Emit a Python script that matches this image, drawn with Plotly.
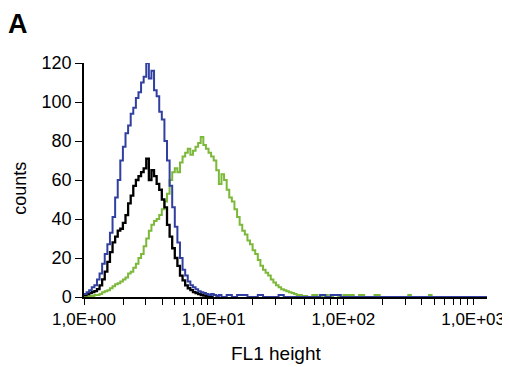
import plotly.graph_objects as go

# FL1 channel positions (log-spaced, 0.02 decade per channel)
channels = [1.000, 1.047, 1.096, 1.148, 1.202, 1.259, 1.318, 1.380, 1.445, 1.514,
            1.585, 1.660, 1.738, 1.820, 1.905, 1.995, 2.089, 2.188, 2.291, 2.399,
            2.512, 2.630, 2.754, 2.884, 3.020, 3.162, 3.311, 3.467, 3.631, 3.802,
            3.981, 4.169, 4.365, 4.571, 4.786, 5.012, 5.248, 5.495, 5.754, 6.026,
            6.310, 6.607, 6.918, 7.244, 7.586, 7.943, 8.318, 8.710, 9.120, 9.550,
            10.00, 10.47, 10.96, 11.48, 12.02, 12.59, 13.18, 13.80, 14.45, 15.14,
            15.85, 16.60, 17.38, 18.20, 19.05, 19.95, 20.89, 21.88, 22.91, 23.99,
            25.12, 26.30, 27.54, 28.84, 30.20, 31.62, 33.11, 34.67, 36.31, 38.02,
            39.81, 41.69, 43.65, 45.71, 47.86, 50.12]

blue_counts = [1.5, 2.5, 3.5, 5, 6, 9, 12, 17, 22, 27,
               33, 41, 51, 60, 70, 77, 84, 88, 94, 97,
               102, 105, 110, 113, 120, 112, 116, 106, 103, 95,
               91, 80, 70, 57, 46, 36, 28, 20, 14, 11,
               8, 6, 5, 4, 3, 2.5, 2, 1.5, 1, 1.5,
               1, 0.5, 1]
black_counts = [1, 1.5, 2, 2.5, 3, 4, 6, 9, 13, 18,
                23, 28, 31, 34, 35, 38, 42, 48, 52, 57,
                60, 62, 64, 66, 71, 60, 65, 62, 58, 55,
                50, 46, 37, 31, 25, 20, 16, 11, 8.5, 6,
                4.5, 3.5, 2.5, 2, 1.5, 1, 0.7, 0.5, 0.5, 0,
                0]
green_counts = [0, 0, 0.5, 0.5, 1, 1, 1.5, 2.5, 3, 3.5,
                4.5, 5.5, 6.5, 7, 8, 9, 10, 12, 13, 15,
                17, 20, 22, 26, 30, 34, 37, 39, 40, 42,
                45, 49, 53, 60, 64, 66, 64, 69, 72, 74,
                76, 73, 75, 77, 79, 82, 78, 76, 74, 72,
                70, 65, 58, 63, 60, 55, 51, 49, 45, 41,
                37, 34, 32, 29, 27, 24, 22, 19, 16, 14,
                12.5, 11, 9, 7.5, 6, 5, 4, 3.5, 3, 2.5,
                2, 1.5, 1, 1, 0.5, 0.5]

# sparse tails near zero
blue_tail_x = [11.48, 12.59, 13.80, 15.14, 16.60, 18.20, 19.95, 21.88, 23.99, 26.30,
               28.84, 31.62, 34.67, 38.02, 41.69, 45.71, 50.12, 54.95, 60.26, 66.07,
               72.44, 79.43, 87.10, 95.50, 104.7, 120.0, 200.0, 400.0, 800.0, 1300.0]
blue_tail_y = [0, 1, 0, 1, 1, 0, 0, 1, 0, 0,
               0, 1, 0, 0, 0, 0, 0, 0, 0, 1,
               0, 1, 1, 0, 0, 0, 0, 0, 0, 0]
green_tail_x = [52.48, 57.54, 63.10, 69.18, 75.86, 83.18, 91.20, 100.0, 109.6, 120.2,
                131.8, 144.5, 158.5, 173.8, 190.5, 208.9, 229.1, 251.2, 275.4, 302.0,
                316.2, 331.1, 363.1, 398.1, 436.5, 457.1, 478.6]
green_tail_y = [0, 1, 0, 1, 0, 1, 0, 1, 1, 0,
                1, 0, 0, 1, 0, 0, 0, 0, 0, 0,
                1, 0, 0, 0, 0, 1, 0]

x_tickvals = [1, 2, 3, 4, 5, 6, 7, 8, 9, 10, 20, 30, 40, 50, 60, 70, 80, 90,
              100, 200, 300, 400, 500, 600, 700, 800, 900, 1000]
x_ticklabels = {1: "1,0E+00", 10: "1,0E+01", 100: "1,0E+02", 1000: "1,0E+03"}
y_tickvals = [0, 20, 40, 60, 80, 100, 120]

BLUE = "#3140a0"
GREEN = "#7cb83a"
BLACK = "#000000"

fig = go.Figure()
fig.add_trace(go.Scatter(x=channels[:len(green_counts)] + green_tail_x,
                         y=green_counts + green_tail_y, mode="lines",
                         line=dict(color=GREEN, width=2.0, shape="hv")))
fig.add_trace(go.Scatter(x=channels[:len(black_counts)], y=black_counts, mode="lines",
                         line=dict(color=BLACK, width=2.3, shape="hv")))
fig.add_trace(go.Scatter(x=channels[:len(blue_counts)] + blue_tail_x,
                         y=blue_counts + blue_tail_y, mode="lines",
                         line=dict(color=BLUE, width=2.0, shape="hv")))

FONT = "Liberation Sans, Arial, Helvetica, sans-serif"
OFF = 8  # page body margin in the browser
W, H = 510 - OFF, 367 - OFF
# plot area in screen pixels
X0, X1, Y0, Y1 = 84, 487, 63, 297.5
L, R, T, B = X0 - OFF, W - (X1 - OFF), Y0 - OFF, H - (Y1 - OFF)
pw = X1 - X0
ph = Y1 - Y0

def px(x):
    return (x - X0) / pw

def py(y):
    return (Y1 - y) / ph

fig.update_layout(
    width=W, height=H,
    margin=dict(l=L, r=R, t=T, b=B, autoexpand=False),
    paper_bgcolor="white", plot_bgcolor="white",
    showlegend=False,
    font=dict(family=FONT, size=17, color="black"),
    xaxis=dict(type="log", range=[0, 3.107], showgrid=False, zeroline=False,
               automargin=False,
               showline=True, linecolor="black", linewidth=1.5,
               ticks="outside", ticklen=6, tickwidth=1.2, tickcolor="black",
               tickvals=x_tickvals,
               ticktext=[x_ticklabels.get(v, "") for v in x_tickvals],
               tickfont=dict(size=17)),
    yaxis=dict(range=[0, 120], showgrid=False, zeroline=False,
               automargin=False,
               showline=True, linecolor="black", linewidth=1.5,
               ticks="outside", ticklen=7, tickwidth=1.2, tickcolor="black",
               tickvals=y_tickvals, tickfont=dict(size=18)),
    annotations=[
        dict(text="<b>A</b>", x=px(6), y=py(24), xref="paper", yref="paper",
             xanchor="left", yanchor="middle", showarrow=False,
             font=dict(size=27, family=FONT)),
        dict(text="FL1 height", x=px(276.5), y=py(354), xref="paper", yref="paper",
             xanchor="center", yanchor="middle", showarrow=False,
             font=dict(size=19, family=FONT)),
        dict(text="counts", x=px(20), y=py(189), xref="paper", yref="paper",
             xanchor="center", yanchor="middle", showarrow=False, textangle=-90,
             font=dict(size=18, family=FONT)),
    ],
)

fig.write_html("out.html")
